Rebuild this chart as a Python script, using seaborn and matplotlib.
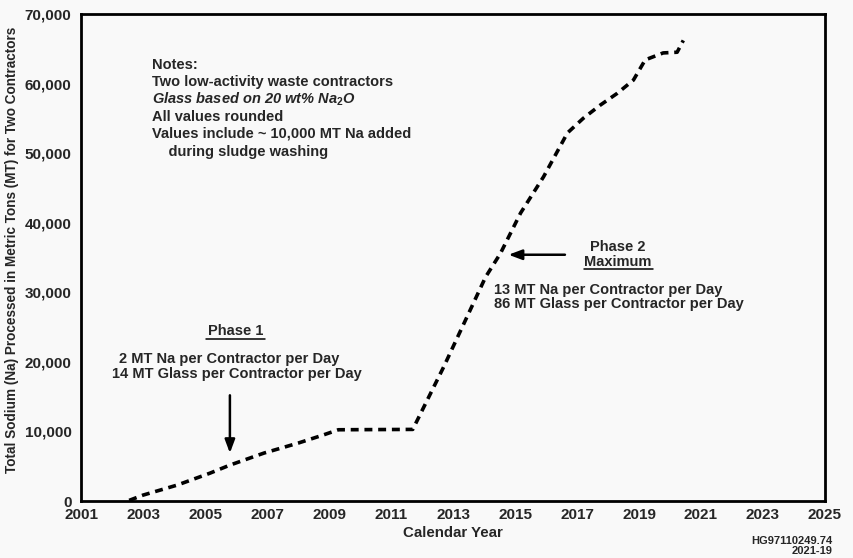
import matplotlib
matplotlib.use("Agg")
import matplotlib.pyplot as plt
import seaborn as sns
import pandas as pd
import numpy as np

# Data
years = [2002.55, 2003.0, 2004.1, 2005.15, 2005.8, 2006.9, 2008.0, 2008.8, 2009.3,
         2011.7, 2012.7, 2014.05, 2014.53, 2015.18, 2015.92, 2016.69, 2017.2,
         2017.75, 2018.3, 2018.82, 2019.2, 2019.78, 2020.23, 2020.43]
sodium_mt = [100, 860, 2300, 4000, 5170, 6900, 8330, 9480, 10250,
             10300, 19300, 32200, 35600, 41400, 46600, 52900, 55000,
             56900, 58600, 60500, 63400, 64400, 64500, 66200]

x_ticks = list(range(2001, 2026))
x_labels = [str(y) if y % 2 == 1 else "" for y in x_ticks]
y_ticks = [0, 10000, 20000, 30000, 40000, 50000, 60000, 70000]
y_labels = ["0", "10,000", "20,000", "30,000", "40,000", "50,000", "60,000", "70,000"]

notes = ["Notes:",
         "Two low-activity waste contractors",
         "Glass based on 20 wt% Na$_2$O",
         "All values rounded",
         "Values include ~ 10,000 MT Na added",
         "    during sludge washing"]
notes_y = [65, 82, 99, 117, 134, 152]

sns.set_style("white")
plt.rcParams['font.family'] = ['Liberation Sans', 'DejaVu Sans']
plt.rcParams['mathtext.fontset'] = 'custom'
plt.rcParams['mathtext.rm'] = 'Liberation Sans:bold'
plt.rcParams['mathtext.it'] = 'Liberation Sans:bold'
plt.rcParams['mathtext.bf'] = 'Liberation Sans:bold'

bg = "#f9f9f9"
fs = 10.5
fig = plt.figure(figsize=(8.54, 5.58), dpi=100, facecolor=bg)
ax = fig.add_axes([0.095, 0.102, 0.871, 0.873])
ax.set_facecolor(bg)

df = pd.DataFrame({"year": years, "na": sodium_mt})
sns.lineplot(data=df, x="year", y="na", ax=ax, color="black", linewidth=2.6,
             linestyle=(0, (2.2, 1.6)), estimator=None, sort=False)

ax.set_xlim(2001, 2025)
ax.set_ylim(0, 70000)
ax.set_xticks(x_ticks)
ax.set_xticklabels(x_labels)
ax.set_yticks(y_ticks)
ax.set_yticklabels(y_labels)
ax.tick_params(axis="both", direction="in", length=6, width=1.3, color="black",
               labelsize=11)
ax.tick_params(axis="x", pad=5)
ax.tick_params(axis="y", pad=7)
for lab in ax.get_xticklabels() + ax.get_yticklabels():
    lab.set_fontweight("bold")
for s in ax.spines.values():
    s.set_linewidth(2)
    s.set_color("black")

ax.set_xlabel("Calendar Year", fontsize=10.8, fontweight="bold", labelpad=3)
ax.set_ylabel("Total Sodium (Na) Processed in Metric Tons (MT) for Two Contractors",
              fontsize=9.8, fontweight="bold")
ax.yaxis.set_label_coords(-0.084, 0.515)

# Notes
for t, yy in zip(notes, notes_y):
    style = "italic" if t.startswith("Glass") else "normal"
    fig.text(152 / 854, 1 - yy / 558, t,
             fontsize=fs, fontweight="bold", style=style, va="center", ha="left")

# Phase 1
ax.annotate("", xy=(2005.8, 6500), xytext=(2005.8, 15600),
            arrowprops=dict(arrowstyle="-|>,head_length=0.8,head_width=0.3",
                            color="black", lw=1.8))
fig.text(236 / 854, 1 - 331 / 558, "Phase 1", fontsize=fs, fontweight="bold",
         ha="center", va="center")
fig.add_artist(plt.Line2D([206 / 854, 265 / 854], [1 - 339 / 558, 1 - 339 / 558],
                          color="black", lw=1.1))
fig.text(229 / 854, 1 - 359 / 558, "2 MT Na per Contractor per Day", fontsize=fs,
         fontweight="bold", ha="center", va="center")
fig.text(237 / 854, 1 - 374 / 558, "14 MT Glass per Contractor per Day", fontsize=fs,
         fontweight="bold", ha="center", va="center")

# Phase 2
ax.annotate("", xy=(2014.7, 35400), xytext=(2016.7, 35400),
            arrowprops=dict(arrowstyle="-|>,head_length=0.8,head_width=0.3",
                            color="black", lw=1.8))
fig.text(618 / 854, 1 - 247 / 558, "Phase 2", fontsize=fs, fontweight="bold",
         ha="center", va="center")
fig.text(618 / 854, 1 - 262 / 558, "Maximum", fontsize=fs, fontweight="bold",
         ha="center", va="center")
fig.add_artist(plt.Line2D([584 / 854, 653 / 854], [1 - 269 / 558, 1 - 269 / 558],
                          color="black", lw=1.1))
fig.text(494 / 854, 1 - 290 / 558, "13 MT Na per Contractor per Day", fontsize=fs,
         fontweight="bold", ha="left", va="center")
fig.text(494 / 854, 1 - 304 / 558, "86 MT Glass per Contractor per Day", fontsize=fs,
         fontweight="bold", ha="left", va="center")

fig.text(833 / 854, 1 - 541 / 558, "HG97110249.74", fontsize=8, fontweight="bold",
         ha="right", va="center")
fig.text(833 / 854, 1 - 551 / 558, "2021-19", fontsize=8, fontweight="bold",
         ha="right", va="center")

fig.savefig("out.png", dpi=100, facecolor=bg)
